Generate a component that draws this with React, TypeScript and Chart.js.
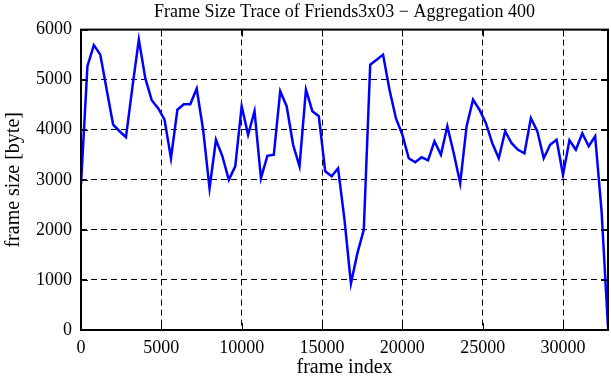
import React, { useEffect, useRef } from "react";
import { Chart, registerables } from "chart.js";

Chart.register(...registerables);

const FRAME_STEP = 400;
const frameSizes: number[] = [
  2900, 5270, 5690, 5500, 4800, 4100, 3970, 3850, 4850, 5800,
  5030, 4590, 4430, 4200, 3430, 4400, 4510, 4510, 4820, 4000,
  2830, 3800, 3470, 3000, 3270, 4470, 3900, 4370, 3030, 3480,
  3500, 4770, 4470, 3700, 3270, 4800, 4370, 4270, 3170, 3070,
  3230, 2200, 930, 1530, 2000, 5300, 5400, 5500, 4800, 4230,
  3900, 3430, 3350, 3450, 3390, 3770, 3500, 4070, 3530, 2930,
  4070, 4600, 4400, 4130, 3730, 3430, 3970, 3730, 3600, 3530,
  4230, 3970, 3430, 3700, 3800, 3100, 3790, 3600, 3930, 3670,
  3870, 2370, 60,
];
const frameIndex: number[] = frameSizes.map((_, i) => i * FRAME_STEP);

const xTicks: number[] = [0, 5000, 10000, 15000, 20000, 25000, 30000];
const yTicks: number[] = [0, 1000, 2000, 3000, 4000, 5000, 6000];

const TITLE = "Frame Size Trace of Friends3x03 \u2212 Aggregation 400";
const X_LABEL = "frame index";
const Y_LABEL = "frame size [byte]";
const SERIF = "'Liberation Serif', 'Times New Roman', serif";

const framePlugin = {
  id: "gnuplotFrame",
  afterDraw(chart: any) {
    const { ctx, chartArea } = chart;
    const { left, right, top, bottom } = chartArea;
    const xs = chart.scales.x;
    const ys = chart.scales.y;
    ctx.save();
    ctx.strokeStyle = "#000";
    ctx.lineWidth = 1;
    ctx.setLineDash([]);
    const tl = 7;
    ctx.beginPath();
    xTicks.forEach((v) => {
      const px = Math.round(xs.getPixelForValue(v)) + 0.5;
      ctx.moveTo(px, bottom);
      ctx.lineTo(px, bottom - tl);
      ctx.moveTo(px, top);
      ctx.lineTo(px, top + tl);
    });
    yTicks.forEach((v) => {
      const py = Math.round(ys.getPixelForValue(v)) + 0.5;
      ctx.moveTo(left, py);
      ctx.lineTo(left + tl, py);
      ctx.moveTo(right, py);
      ctx.lineTo(right - tl, py);
    });
    ctx.stroke();
    ctx.lineWidth = 2;
    ctx.strokeRect(left, top, right - left, bottom - top);
    ctx.restore();
  },
};

export default function App() {
  const ref = useRef<HTMLCanvasElement | null>(null);
  useEffect(() => {
    if (!ref.current) return;
    const chart = new Chart(ref.current, {
      type: "line",
      data: {
        datasets: [
          {
            data: frameIndex.map((x, i) => ({ x, y: frameSizes[i] })),
            borderColor: "#0000ff",
            borderWidth: 2.5,
            pointRadius: 0,
            tension: 0,
            fill: false,
          },
        ],
      },
      options: {
        animation: false,
        responsive: false,
        maintainAspectRatio: false,
        layout: { padding: { top: 0, right: 3, bottom: 0, left: 0 } },
        plugins: {
          legend: { display: false },
          tooltip: { enabled: false },
          title: {
            display: true,
            fullSize: false,
            text: TITLE,
            color: "#000",
            font: { family: SERIF, size: 18, weight: "normal" },
            padding: { top: 1, bottom: 7 },
          },
        },
        scales: {
          x: {
            type: "linear",
            min: 0,
            max: 32800,
            afterBuildTicks: (scale: any) => {
              scale.ticks = xTicks.map((v) => ({ value: v }));
            },
            afterFit: (scale: any) => {
              scale.height = 50;
            },
            grid: { color: "#000", lineWidth: 1, drawTicks: false },
            border: { display: false, dash: [6, 4] },
            ticks: {
              color: "#000",
              font: { family: SERIF, size: 18 },
              padding: 7,
              maxRotation: 0,
              autoSkip: false,
              callback: (v: any) => String(v),
            },
            title: {
              display: true,
              text: X_LABEL,
              color: "#000",
              font: { family: SERIF, size: 20 },
              padding: { top: 0, bottom: 0 },
            },
          },
          y: {
            type: "linear",
            min: 0,
            max: 6000,
            afterBuildTicks: (scale: any) => {
              scale.ticks = yTicks.map((v) => ({ value: v }));
            },
            afterFit: (scale: any) => {
              scale.width = 81;
            },
            grid: { color: "#000", lineWidth: 1, drawTicks: false },
            border: { display: false, dash: [6, 4] },
            ticks: {
              color: "#000",
              font: { family: SERIF, size: 18 },
              padding: 9,
              autoSkip: false,
              callback: (v: any) => String(v),
            },
            title: {
              display: true,
              text: Y_LABEL,
              color: "#000",
              font: { family: SERIF, size: 20 },
              padding: { top: 2, bottom: 0 },
            },
          },
        },
      },
      plugins: [framePlugin],
    } as any);
    return () => chart.destroy();
  }, []);
  return (
    <div style={{ position: "fixed", left: 0, top: 0, width: 611, height: 380, background: "#fff" }}>
      <canvas ref={ref} width={611} height={380} style={{ display: "block" }} />
    </div>
  );
}
